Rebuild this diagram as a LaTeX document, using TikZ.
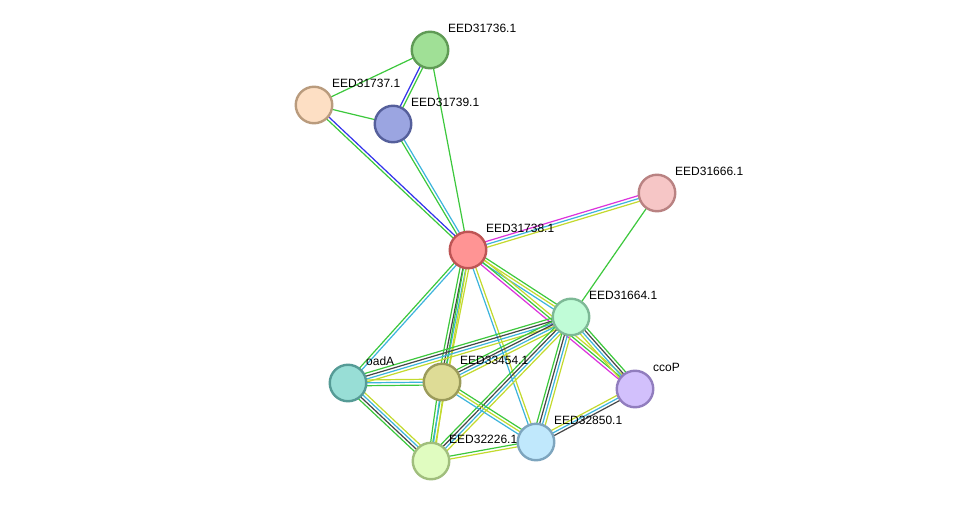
\documentclass[tikz,border=0pt]{standalone}
\usepackage{fontspec}
\setmainfont{Liberation Sans}
\usetikzlibrary{calc,backgrounds}
\definecolor{sg}{RGB}{60,200,60}
\definecolor{sb}{RGB}{50,50,235}
\definecolor{sc}{RGB}{60,180,220}
\definecolor{sm}{RGB}{220,50,220}
\definecolor{sy}{RGB}{195,218,45}
\definecolor{sk}{RGB}{70,70,70}
\definecolor{f36}{RGB}{160,224,150}\definecolor{d36}{RGB}{95,155,85}
\definecolor{f37}{RGB}{253,223,196}\definecolor{d37}{RGB}{185,155,125}
\definecolor{f39}{RGB}{155,165,225}\definecolor{d39}{RGB}{85,95,155}
\definecolor{f66}{RGB}{246,198,198}\definecolor{d66}{RGB}{185,130,130}
\definecolor{f38}{RGB}{255,148,148}\definecolor{d38}{RGB}{190,85,85}
\definecolor{f64}{RGB}{192,252,215}\definecolor{d64}{RGB}{125,185,150}
\definecolor{foa}{RGB}{152,222,214}\definecolor{doa}{RGB}{85,155,150}
\definecolor{f54}{RGB}{222,220,150}\definecolor{d54}{RGB}{155,155,90}
\definecolor{fcc}{RGB}{210,192,252}\definecolor{dcc}{RGB}{145,125,190}
\definecolor{f50}{RGB}{192,232,252}\definecolor{d50}{RGB}{125,165,190}
\definecolor{f26}{RGB}{224,252,192}\definecolor{d26}{RGB}{160,190,125}
\tikzset{
  prot/.style={circle, minimum size=36.5pt, inner sep=0pt, line width=2.4pt},
  plabel/.style={anchor=base west, font=\fontsize{12pt}{14pt}\selectfont, inner sep=0pt, text=black},
  evline/.style={line width=1.2pt},
}
\newcommand\stredge[3]{%
  \gdef\nlines{0}%
  \foreach \col in {#3}{\xdef\nlines{\the\numexpr\nlines+1\relax}}%
  \foreach \col [count=\ii] in {#3}{%
    \pgfmathsetmacro\off{(\ii-(\nlines+1)/2)*2.9}%
    \draw[evline,\col] ($(#1.center)!\off pt!90:(#2.center)$) -- ($(#2.center)!\off pt!-90:(#1.center)$);
  }}
\newcommand\prot[6]{% name, x, y, fill, draw, label
  \node[prot, fill=#4, draw=#5] (#1) at (#2,#3) {};
  \node[plabel] (#1l) at (#2+18,#3-18) {#6};
}
\begin{document}
\begin{tikzpicture}[x=1pt,y=-1pt]
\useasboundingbox (0,0) rectangle (975,506);
\prot{n36}{430}{50}{f36}{d36}{EED31736.1}
\prot{n37}{314}{105}{f37}{d37}{EED31737.1}
\prot{n39}{393}{124}{f39}{d39}{EED31739.1}
\prot{n66}{657}{193}{f66}{d66}{EED31666.1}
\prot{n38}{468}{250}{f38}{d38}{EED31738.1}
\prot{n64}{571}{317}{f64}{d64}{EED31664.1}
\prot{oad}{348}{383}{foa}{doa}{oadA}
\prot{n54}{442}{382}{f54}{d54}{EED33454.1}
\prot{cco}{635}{389}{fcc}{dcc}{ccoP}
\prot{n50}{536}{442}{f50}{d50}{EED32850.1}
\prot{n26}{431}{461}{f26}{d26}{EED32226.1}
\begin{scope}[on background layer]
\fill[white] (0,0) rectangle (975,506);
\stredge{n36}{n37}{sg}
\stredge{n36}{n39}{sb,sg}
\stredge{n36}{n38}{sg}
\stredge{n37}{n39}{sg}
\stredge{n37}{n38}{sg,sb}
\stredge{n39}{n38}{sg,sc}
\stredge{n38}{n66}{sy,sc,sm}
\stredge{n66}{n64}{sg}
\stredge{n38}{n64}{sc,sy,sg}
\stredge{n38}{cco}{sm,sg,sy}
\stredge{n64}{cco}{sy,sc,sk,sg}
\stredge{n38}{oad}{sg,sc}
\stredge{n38}{n54}{sg,sk,sc,sy}
\stredge{n38}{n26}{sg,sy}
\stredge{n38}{n50}{sc,sy}
\stredge{n64}{oad}{sg,sk,sc,sy}
\stredge{n64}{n54}{sg,sk,sc,sy}
\stredge{n64}{n26}{sg,sk,sc,sy}
\stredge{n64}{n50}{sg,sk,sc,sy}
\stredge{oad}{n54}{sg,sc,sy}
\stredge{oad}{n26}{sg,sk,sc,sy}
\stredge{n54}{n26}{sg,sc,sy}
\stredge{n54}{n50}{sc,sy,sg}
\stredge{n26}{n50}{sy,sg}
\stredge{cco}{n50}{sy,sc,sk}
\end{scope}
\end{tikzpicture}
\end{document}
